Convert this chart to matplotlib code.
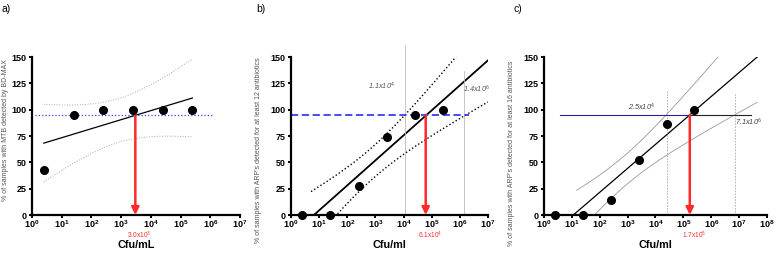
import matplotlib
matplotlib.use("Agg")
import matplotlib.pyplot as plt
import numpy as np

plt.rcParams['font.family'] = ['Liberation Sans', 'DejaVu Sans']
plt.rcParams['mathtext.fontset'] = 'custom'
plt.rcParams['mathtext.rm'] = 'Liberation Sans'
plt.rcParams['mathtext.bf'] = 'Liberation Sans:bold'
plt.rcParams['mathtext.it'] = 'Liberation Sans:italic'

# data
cfu = [2.5, 25, 250, 2500, 25000, 250000]
pct_a = [43, 95, 100, 100, 100, 100]
pct_b = [0, 0, 28, 74, 95, 100]
pct_c = [0, 0, 14, 52, 86, 100]
lod_a, lod_b, lod_c = 3.0e3, 6.1e4, 1.7e5
ci_b = [1.1e4, 1.4e6]
ci_c = [2.5e4, 7.1e6]
ylabels = ["% of samples with MTB detected by BD-MAX",
           "% of samples with ARP's detected for at least 12 antibiotics",
           "% of samples with ARP's detected for at least 16 antibiotics"]
xlabels = ["Cfu/mL", "Cfu/ml", "Cfu/ml"]

T_CRIT = 2.776  # t(0.975, df=4)
RED = '#ff2b2b'


def fit(x, y):
    lx = np.log10(x)
    y = np.asarray(y, float)
    slope, icpt = np.polyfit(lx, y, 1)
    resid = y - (slope * lx + icpt)
    s = np.sqrt(np.sum(resid ** 2) / (len(y) - 2))
    mx, sxx = lx.mean(), np.sum((lx - lx.mean()) ** 2)

    def line(d):
        return slope * d + icpt

    def band(d):
        return T_CRIT * s * np.sqrt(1 / len(y) + (d - mx) ** 2 / sxx)
    return line, band


def style(ax, nmax, xlabel):
    ax.set_xscale('log')
    ax.set_xlim(1, 10 ** nmax)
    ax.set_ylim(0, 150)
    for s in ['top', 'right']:
        ax.spines[s].set_visible(False)
    for s in ['left', 'bottom']:
        ax.spines[s].set_linewidth(1.6)
    ax.set_yticks(np.arange(0, 151, 25))
    ax.set_yticklabels([str(v) for v in range(0, 151, 25)], fontweight='bold', fontsize=6.5)
    ax.set_xticks([10 ** i for i in range(nmax + 1)])
    ax.set_xticklabels([r'$\mathbf{10^{%d}}$' % i for i in range(nmax + 1)], fontsize=6.5)
    ax.xaxis.set_minor_locator(matplotlib.ticker.NullLocator())
    ax.tick_params(width=1.4, length=2.2)
    ax.tick_params(axis='y', pad=1.8)
    ax.tick_params(axis='x', pad=0.4)
    ax.set_xlabel(xlabel, fontsize=7.8, fontweight='bold', labelpad=7)


def note(ax, x, y, txt, color):
    ax.text(x, y, txt, color=color, fontsize=5.3, fontstyle='italic', ha='center', va='center')


def red_arrow(ax, x, label):
    ax.annotate('', xy=(x, 0), xytext=(x, 95),
                arrowprops=dict(arrowstyle='-|>', color=RED, lw=1.8, mutation_scale=11,
                                shrinkA=0, shrinkB=0))
    ax.annotate(label, xy=(x, 0), xytext=(3, -15), textcoords='offset points',
                ha='center', va='center', color=RED, fontsize=4.8, annotation_clip=False)


fig = plt.figure(figsize=(7.79, 2.54), dpi=100)
ax_a = fig.add_axes([0.0411, 0.1535, 0.267, 0.622])
ax_b = fig.add_axes([0.3736, 0.1535, 0.2529, 0.622])
ax_c = fig.add_axes([0.6983, 0.1535, 0.2863, 0.622])

# ---- a)
line, band = fit(cfu, pct_a)
d = np.linspace(np.log10(cfu[0]), np.log10(cfu[-1]), 100)
ax_a.plot(10 ** d, line(d), color='black', lw=0.9)
ax_a.plot(10 ** d, line(d) + band(d), color='#aaaaaa', lw=0.7, ls=':')
ax_a.plot(10 ** d, line(d) - band(d), color='#aaaaaa', lw=0.7, ls=':')
ax_a.plot([10 ** 0.1, 10 ** 6.1], [95, 95], color='#3a3aff', lw=0.9, ls=':')
ax_a.plot(cfu, pct_a, 'o', color='black', ms=5.5, clip_on=False, zorder=5)
red_arrow(ax_a, lod_a, r'3.0x10$^{3}$')
style(ax_a, 7, xlabels[0])

# ---- b)
line, band = fit(cfu, pct_b)
d = np.linspace(0.6, 7, 100)
ax_b.plot(10 ** d, line(d), color='black', lw=1.3)
du = np.linspace(0.71, 7, 100)
ax_b.plot(10 ** du, line(du) + band(du), color='black', lw=1.0, ls=':')
dl = np.linspace(1.3, 7, 100)
ax_b.plot(10 ** dl, line(dl) - band(dl), color='black', lw=1.0, ls=':')
ax_b.plot([ci_b[0]] * 2, [0, 161], color='#bbbbbb', lw=0.6, clip_on=False)
ax_b.plot([ci_b[1]] * 2, [0, 137], color='#bbbbbb', lw=0.6)
ax_b.plot([1, 10 ** 6.32], [95, 95], color='#3a3aff', lw=1.3, ls=(0, (4, 2)))
ax_b.plot(cfu, pct_b, 'o', color='black', ms=5.5, clip_on=False, zorder=5)
note(ax_b, 10 ** 3.23, 122, r'1.1x10$^{4}$', '#555555')
note(ax_b, 10 ** 6.58, 119, r'1.4x10$^{6}$', '#555555')
red_arrow(ax_b, lod_b, r'6.1x10$^{4}$')
style(ax_b, 7, xlabels[1])

# ---- c)
line, band = fit(cfu, pct_c)
d = np.linspace(0.9, 7.8, 100)
ax_c.plot(10 ** d, line(d), color='black', lw=0.9)
du = np.linspace(1.17, 6.6, 100)
ax_c.plot(10 ** du, line(du) + band(du), color='#999999', lw=0.6)
dl = np.linspace(1.8, 7.65, 100)
ax_c.plot(10 ** dl, line(dl) - band(dl), color='#999999', lw=0.6)
ax_c.plot([ci_c[0]] * 2, [0, 119], color='#aaaaaa', lw=0.6, ls=(0, (2, 1.5)))
ax_c.plot([ci_c[1]] * 2, [0, 115], color='#aaaaaa', lw=0.6, ls=(0, (2, 1.5)))
ax_c.plot([10 ** 0.56, lod_c], [95, 95], color='#22229a', lw=0.8)
ax_c.plot([lod_c, 10 ** 7.42], [95, 95], color='#222222', lw=0.8)
ax_c.plot(cfu, pct_c, 'o', color='black', ms=5.5, clip_on=False, zorder=5)
note(ax_c, 10 ** 3.51, 102, r'2.5x10$^{4}$', '#444444')
note(ax_c, 10 ** 7.34, 88, r'7.1x10$^{6}$', '#444444')
red_arrow(ax_c, lod_c, r'1.7x10$^{5}$')
style(ax_c, 8, xlabels[2])

# y labels and panel letters
fig.text(6 / 779, 1 - 130 / 254, ylabels[0], rotation=90, fontsize=5, color='#555555', ha='center', va='center')
fig.text(259 / 779, 1 - 150 / 254, ylabels[1], rotation=90, fontsize=5, color='#555555', ha='center', va='center')
fig.text(512 / 779, 1 - 153 / 254, ylabels[2], rotation=90, fontsize=5, color='#555555', ha='center', va='center')
for xp, lab in [(2, 'a)'), (256, 'b)'), (514, 'c)')]:
    fig.text(xp / 779, 1 - 9 / 254, lab, fontsize=7.5, ha='left', va='center')

fig.savefig('out.png', dpi=100)
